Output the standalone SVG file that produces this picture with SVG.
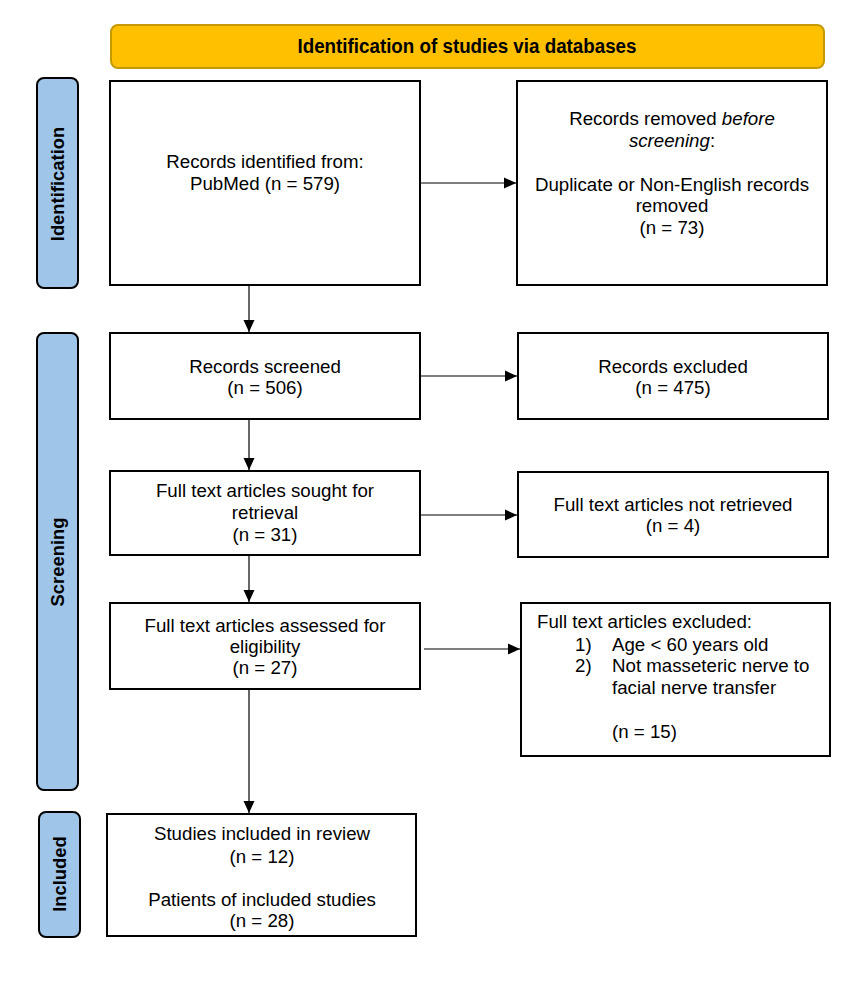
<svg xmlns="http://www.w3.org/2000/svg" width="863" height="981" viewBox="0 0 863 981">
<style>
.box{fill:#fff;stroke:#000;stroke-width:2}
.side{fill:#9FC5E8;stroke:#000;stroke-width:2}
.t{font-family:"Liberation Sans",Arial,sans-serif;font-size:18.7px;fill:#000;text-anchor:middle}
.tl{font-family:"Liberation Sans",Arial,sans-serif;font-size:18.7px;fill:#000}
.b{font-family:"Liberation Sans",Arial,sans-serif;font-size:18.4px;font-weight:bold;fill:#000;text-anchor:middle}
.c{stroke:#000;stroke-width:1.2;fill:none;marker-end:url(#ah)}
</style>
<defs>
<marker id="ah" markerWidth="12" markerHeight="12" refX="12" refY="6" orient="auto" markerUnits="userSpaceOnUse">
<path d="M0,0.5 L12,6 L0,11.5 Z" fill="#000"/>
</marker>
</defs>
<rect width="863" height="981" fill="#fff"/>
<g id="header">
<rect x="111" y="25" width="713" height="43" rx="7" fill="#FFC000" stroke="#C49A00" stroke-width="2"/>
<text class="b" x="467" y="53" style="font-size:20px" textLength="339" lengthAdjust="spacingAndGlyphs">Identification of studies via databases</text>
</g>
<g id="side-identification">
<rect class="side" x="37" y="78" width="41" height="210" rx="7"/>
<text class="b" transform="translate(64,184) rotate(-90)">Identification</text>
</g>
<g id="side-screening">
<rect class="side" x="37" y="333" width="41" height="457" rx="7"/>
<text class="b" transform="translate(64,562) rotate(-90)">Screening</text>
</g>
<g id="side-included">
<rect class="side" x="39" y="812" width="41" height="125" rx="7"/>
<text class="b" transform="translate(66,874) rotate(-90)">Included</text>
</g>
<g id="n-identified">
<rect class="box" x="110" y="81" width="310" height="204"/>
<text class="t" x="265" y="168">Records identified from:</text>
<text class="t" x="265" y="190">PubMed (n = 579)</text>
</g>
<g id="n-removed">
<rect class="box" x="517" y="81" width="310" height="204"/>
<text class="t" x="672" y="125">Records removed <tspan font-style="italic">before</tspan></text>
<text class="t" x="672" y="147"><tspan font-style="italic">screening</tspan>:</text>
<text class="t" x="672" y="191">Duplicate or Non-English records</text>
<text class="t" x="672" y="212">removed</text>
<text class="t" x="672" y="234">(n = 73)</text>
</g>
<g id="n-screened">
<rect class="box" x="110" y="333" width="310" height="86"/>
<text class="t" x="265" y="373">Records screened</text>
<text class="t" x="265" y="394">(n = 506)</text>
</g>
<g id="n-excluded">
<rect class="box" x="518" y="333" width="310" height="86"/>
<text class="t" x="673" y="373">Records excluded</text>
<text class="t" x="673" y="394">(n = 475)</text>
</g>
<g id="n-sought">
<rect class="box" x="110" y="471" width="310" height="84"/>
<text class="t" x="265" y="497">Full text articles sought for</text>
<text class="t" x="265" y="519">retrieval</text>
<text class="t" x="265" y="541">(n = 31)</text>
</g>
<g id="n-notretrieved">
<rect class="box" x="518" y="472" width="310" height="85"/>
<text class="t" x="673" y="511">Full text articles not retrieved</text>
<text class="t" x="673" y="532">(n = 4)</text>
</g>
<g id="n-assessed">
<rect class="box" x="110" y="603" width="310" height="86"/>
<text class="t" x="265" y="632">Full text articles assessed for</text>
<text class="t" x="265" y="653">eligibility</text>
<text class="t" x="265" y="674">(n = 27)</text>
</g>
<g id="n-ftexcluded">
<rect class="box" x="521" y="603" width="309" height="153"/>
<text class="tl" x="537" y="628">Full text articles excluded:</text>
<text class="tl" x="575" y="651">1)</text>
<text class="tl" x="612" y="651">Age &lt; 60 years old</text>
<text class="tl" x="575" y="672">2)</text>
<text class="tl" x="612" y="672">Not masseteric nerve to</text>
<text class="tl" x="612" y="694">facial nerve transfer</text>
<text class="tl" x="612" y="738">(n = 15)</text>
</g>
<g id="n-included">
<rect class="box" x="107" y="814" width="309" height="122"/>
<text class="t" x="262" y="840">Studies included in review</text>
<text class="t" x="262" y="863">(n = 12)</text>
<text class="t" x="262" y="906">Patients of included studies</text>
<text class="t" x="262" y="927">(n = 28)</text>
</g>
<g id="connectors">
<line class="c" x1="420" y1="183" x2="516" y2="183"/>
<line class="c" x1="249" y1="285" x2="249" y2="332"/>
<line class="c" x1="420" y1="376" x2="517" y2="376"/>
<line class="c" x1="249" y1="419" x2="249" y2="470"/>
<line class="c" x1="420" y1="515" x2="517" y2="515"/>
<line class="c" x1="249" y1="555" x2="249" y2="602"/>
<line class="c" x1="424" y1="649" x2="520" y2="649"/>
<line class="c" x1="249" y1="689" x2="249" y2="813"/>
</g>
</svg>
